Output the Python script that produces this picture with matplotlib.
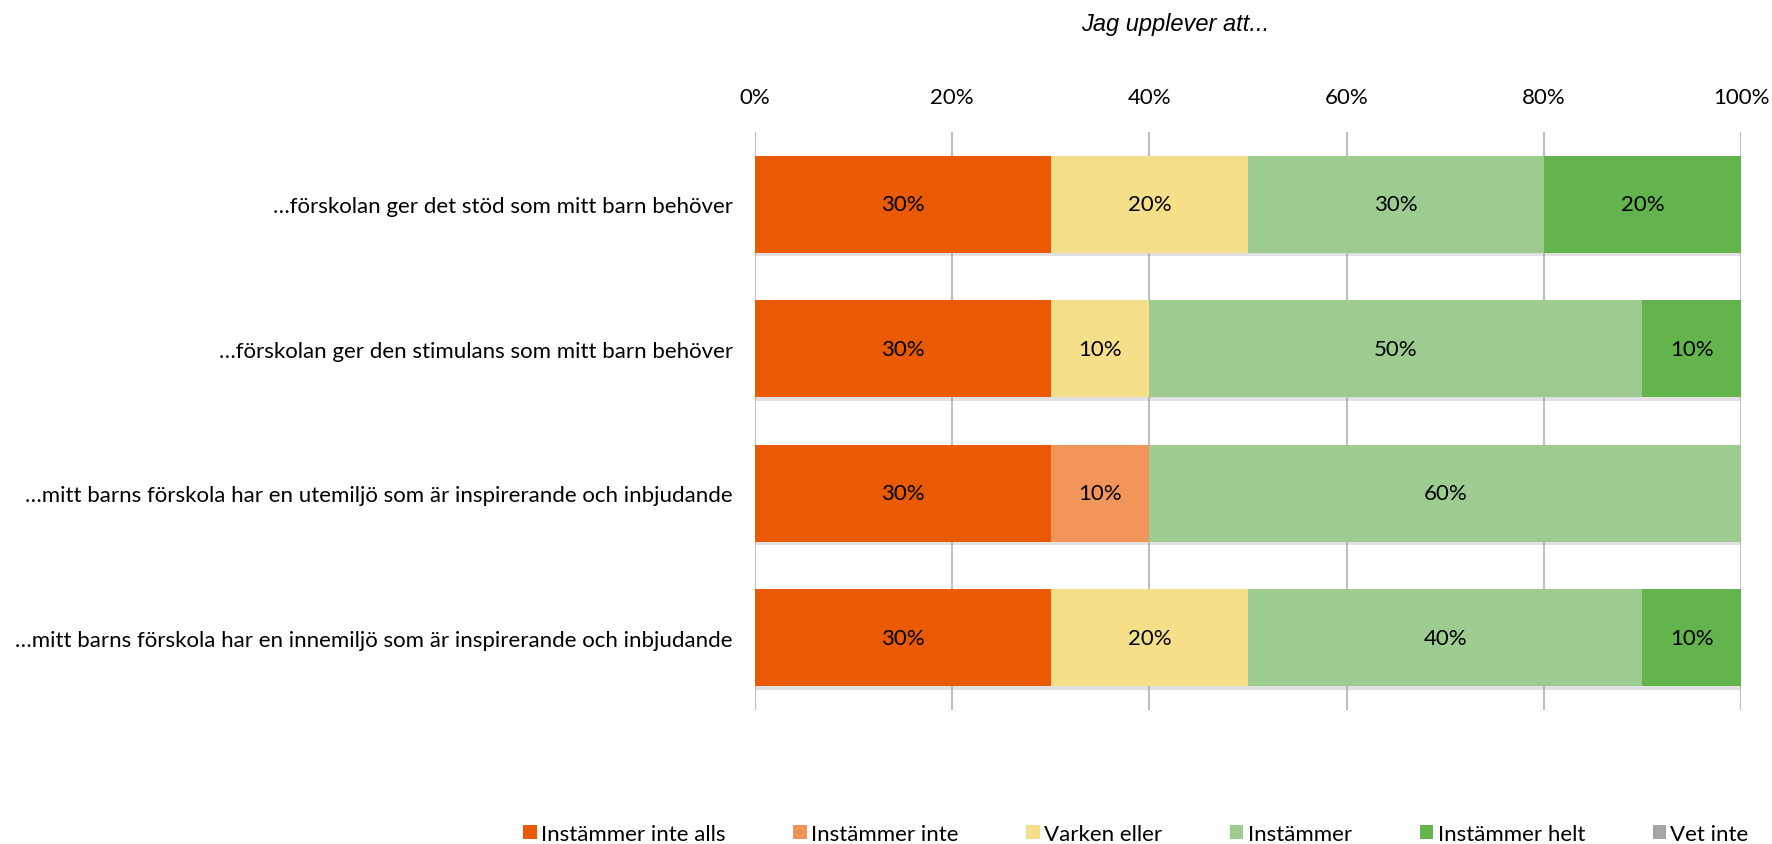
import matplotlib
matplotlib.use("Agg")
import matplotlib.pyplot as plt
import matplotlib.patheffects as pe
from matplotlib.patches import Patch
import numpy as np

categories = [
    "…förskolan ger det stöd som mitt barn behöver",
    "…förskolan ger den stimulans som mitt barn behöver",
    "…mitt barns förskola har en utemiljö som är inspirerande och inbjudande",
    "…mitt barns förskola har en innemiljö som är inspirerande och inbjudande",
]
series = ["Instämmer inte alls", "Instämmer inte", "Varken eller",
          "Instämmer", "Instämmer helt", "Vet inte"]
inte_alls = [30, 30, 30, 30]
inte = [0, 0, 10, 0]
varken = [20, 10, 0, 20]
instammer = [30, 50, 60, 40]
helt = [20, 10, 0, 10]
vet_inte = [0, 0, 0, 0]
values = [inte_alls, inte, varken, instammer, helt, vet_inte]
colors = ["#E95A03", "#F1955B", "#F5E089", "#9DCC90", "#63B44C", "#A5A5A5"]
ticks = [0, 20, 40, 60, 80, 100]

plt.rcParams['font.family'] = ['Lato', 'DejaVu Sans']

fig = plt.figure(figsize=(17.72, 8.45), dpi=100)
ax = fig.add_axes([755/1772, 1 - 711/845, (1741-755)/1772, (711-133)/845])

y = np.arange(len(categories))
left = np.zeros(len(categories))
shadow = [pe.SimplePatchShadow(offset=(0, -2.5), shadow_rgbFace="#AAAAAA", alpha=0.35), pe.Normal()]
for vals, col in zip(values, colors):
    vals = np.array(vals, dtype=float)
    bars = ax.barh(y, vals, left=left, height=0.67, color=col, zorder=3)
    for b in bars:
        b.set_path_effects(shadow)
    for yi, l, v in zip(y, left, vals):
        if v > 0:
            ax.text(l + v / 2, yi, f"{v:.0f}%", ha="center", va="center",
                    fontsize=16, color="black", zorder=4)
    left += vals

ax.set_xlim(0, 100)
ax.set_ylim(3.5, -0.5)
ax.set_yticks(y)
ax.set_yticklabels(categories, fontsize=16)
ax.set_xticks(ticks)
ax.set_xticklabels([f"{t}%" for t in ticks], fontsize=16)
ax.xaxis.tick_top()
ax.tick_params(axis="both", length=0)
ax.tick_params(axis="y", pad=16)
ax.tick_params(axis="x", pad=18)
ax.grid(axis="x", color="#BFBFBF", linewidth=1.5, zorder=0)
for s in ax.spines.values():
    s.set_visible(False)

fig.text(1175/1772, 1 - 24/845, "Jag upplever att...", ha="center", va="center",
         fontsize=17, style="italic", family=["Liberation Sans", "DejaVu Sans"])

handles = [Patch(facecolor=c, edgecolor="none") for c in colors]
fig.legend(handles, series, loc="center", bbox_to_anchor=(1136/1772, 1 - 835/845),
           ncol=6, frameon=False, fontsize=16, handlelength=0.6, handleheight=0.6,
           handletextpad=0.2, columnspacing=3.05)

fig.savefig("out.png", dpi=100)
